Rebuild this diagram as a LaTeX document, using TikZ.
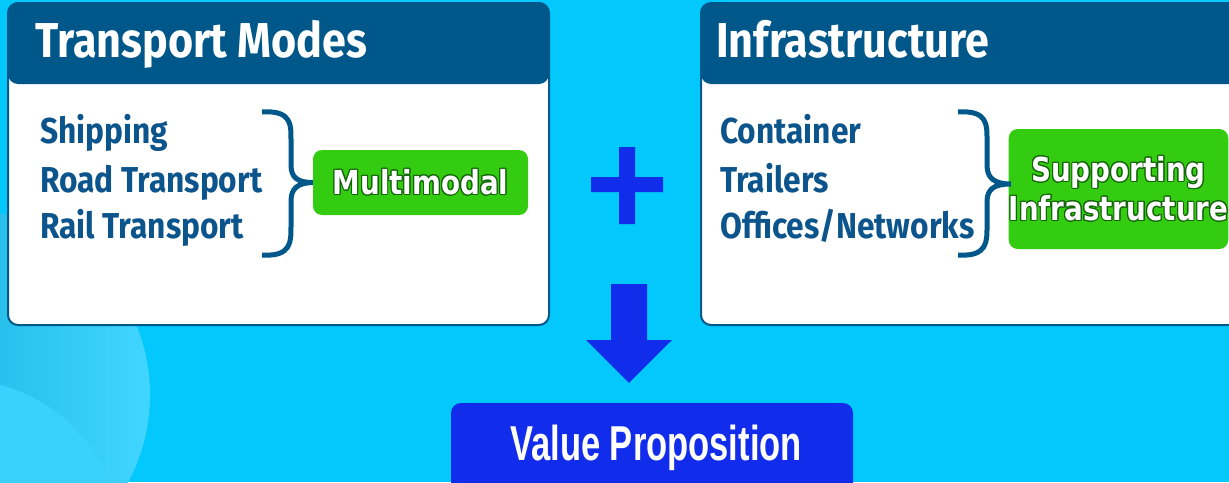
\documentclass[tikz,border=0pt]{standalone}
\usepackage{fontspec}
\setmainfont{Fira Sans}
\newfontfamily\boxfont{DejaVu Sans}
\newfontfamily\vpfont{Liberation Sans}
\usepackage{contour}
\contourlength{1.2pt}
\usetikzlibrary{calc}

\definecolor{bgcyan}{RGB}{3,200,252}
\definecolor{hdrblue}{RGB}{0,87,138}
\definecolor{itemblue}{RGB}{12,84,140}
\definecolor{boxgreen}{RGB}{51,204,17}
\definecolor{edgegreen}{RGB}{20,100,10}
\definecolor{royal}{RGB}{18,44,236}
\definecolor{bubbledark}{RGB}{8,160,210}
\definecolor{bubblelight}{RGB}{64,214,255}
\definecolor{bubblesoft}{RGB}{58,210,252}

\tikzset{
	panel/.style={draw=hdrblue, line width=2pt, fill=white, rounded corners=10pt, inner sep=0pt},
	header/.style={fill=hdrblue, rounded corners=10pt, inner sep=0pt},
	title/.style={anchor=base west, text=white, inner sep=0pt, font=\bfseries\fontsize{49}{55}\selectfont},
	item/.style={anchor=base west, text=itemblue, inner sep=0pt, font=\bfseries\fontsize{36}{40}\selectfont},
	greenbox/.style={fill=boxgreen, rounded corners=9pt, inner sep=0pt, align=center, text=white,
		font=\boxfont\bfseries\fontsize{33}{41}\selectfont},
	curly/.style={draw=hdrblue, line width=5pt},
	vpbox/.style={fill=royal, rounded corners=10pt, inner sep=0pt, minimum width=402pt, minimum height=96pt},
	vptext/.style={anchor=base, text=white, inner sep=0pt, font=\vpfont\bfseries\fontsize{49}{55}\selectfont}
}

\newcommand{\greenlabel}[1]{\scalebox{0.84}[1]{\contour{edgegreen}{#1}}}
\newcommand{\narrowtext}[1]{\scalebox{0.88}[1]{#1}}

\begin{document}
\begin{tikzpicture}[x=1pt, y=-1pt]
	\useasboundingbox (0,0) rectangle (1229,482);
	\fill[bgcyan] (0,0) rectangle (1229,482);
	%bubbles in the corner
	\shade[left color=bubbledark, right color=bubblelight] (-35,395) circle (185);
	\fill[bubblesoft] (-40,540) circle (160);

	%the two panels
	\node[panel, minimum width=541pt, minimum height=322pt] (modes) at (278.5,164) {};
	\node[header, minimum width=541pt, minimum height=81pt] (modeshd) at (278.5,43.5) {};
	\node[panel, minimum width=544pt, minimum height=322pt] (infra) at (973,164) {};
	\node[header, minimum width=544pt, minimum height=81pt] (infrahd) at (973,43.5) {};
	\node[title] (modestitle) at (35,57) {\narrowtext{Transport Modes}};
	\node[title] (infratitle) at (716,57) {\narrowtext{Infrastructure}};

	%lists
	\foreach \y/\name/\txt in {143/ship/Shipping, 192/road/Road Transport, 238/rail/Rail Transport}
		\node[item] (\name) at (40,\y) {\narrowtext{\txt}};
	\foreach \y/\name/\txt in {143/cont/Container, 192/trail/Trailers, 238/offi/{Offices/Networks}}
		\node[item] (\name) at (720,\y) {\narrowtext{\txt}};

	%green boxes
	\node[greenbox, minimum width=215pt, minimum height=65pt] (multi) at (420.5,182.5)
		{\greenlabel{Multimodal}};
	\node[greenbox, minimum width=215pt, minimum height=120pt] (supp) at (1118.5,189)
		{\greenlabel{Supporting}\\[-2pt]\greenlabel{Infrastructure}};
	\coordinate (rtip) at (1011,184);

	%braces
	\draw[curly] (262,112) .. controls (292,110) and (291,125) .. (291,140) -- (291,165)
		.. controls (291,178) and (298,182.5) .. (multi.west)
		.. controls (298,183) and (291,188) .. (291,201) -- (291,226)
		.. controls (291,241) and (292,257) .. (262,255);
	\draw[curly] (958,112) .. controls (988,110) and (987,125) .. (987,140) -- (987,165)
		.. controls (987,178) and (994,184) .. (rtip)
		.. controls (994,184) and (987,189) .. (987,202) -- (987,226)
		.. controls (987,241) and (988,257) .. (958,255);

	%plus
	\fill[royal] (619,147) rectangle (635,224)
		(591,177) rectangle (663,192);

	%value proposition
	\node[vpbox] (vp) at (652,451) {};
	\node[vptext] (vplbl) at (656,460) {\scalebox{0.705}[1]{Value Proposition}};
	\fill[royal] (611,284) -- (647,284) -- (647,340) -- (672,340) -- ($(vp.north)+(-23,-20)$)
		-- (586,340) -- (611,340) -- cycle;
\end{tikzpicture}
\end{document}
